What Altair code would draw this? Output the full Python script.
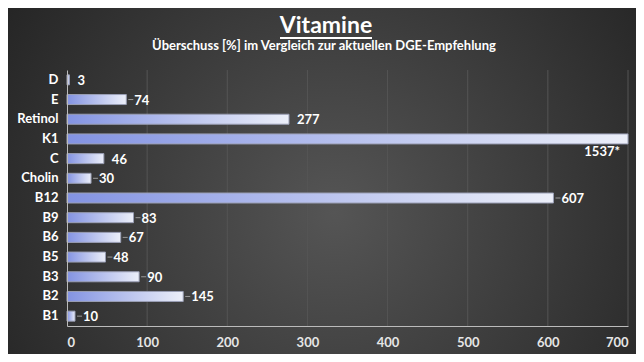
import altair as alt
import pandas as pd

names = ["D", "E", "Retinol", "K1", "C", "Cholin", "B12", "B9", "B6", "B5", "B3", "B2", "B1"]
values = [3, 74, 277, 1537, 46, 30, 607, 83, 67, 48, 90, 145, 10]
labels = ["3", "74", "277", "1537*", "46", "30", "607", "83", "67", "48", "90", "145", "10"]
x_ticks = [0, 100, 200, 300, 400, 500, 600, 700]
title_text = "Vitamine"
subtitle_text = "Überschuss [%] im Vergleich zur aktuellen DGE-Empfehlung"

df = pd.DataFrame({"name": names, "value": values, "label": labels})
grid_df = pd.DataFrame({"tick": x_ticks[1:]})
one = pd.DataFrame({"t": [title_text], "s": [subtitle_text]})

W, H = 561, 256
FONT = "Lato"
xscale = alt.Scale(domain=[0, 700], nice=False, clamp=True)
yscale = alt.Scale(domain=names, paddingInner=0, paddingOuter=0)

bg = alt.Chart(one).mark_rect(
    color=alt.Gradient(
        gradient="radial",
        stops=[alt.GradientStop(offset=0, color="#555555"),
               alt.GradientStop(offset=1, color="#1b1b1b")],
        x1=0.52, y1=0.55, r1=0, x2=0.52, y2=0.55, r2=0.75,
    )
).encode(x=alt.value(-59), x2=alt.value(W + 8), y=alt.value(-62), y2=alt.value(H + 28))

grid = alt.Chart(grid_df).mark_rule(color="#555555", strokeWidth=1).encode(
    x=alt.X("tick:Q", scale=xscale, title=None)
)

bars = alt.Chart(df).mark_bar(
    size=10,
    color=alt.Gradient(
        gradient="linear",
        stops=[alt.GradientStop(offset=0, color="#8393e2"),
               alt.GradientStop(offset=1, color="#eceff9")],
        x1=0, x2=1, y1=0, y2=0,
    ),
    stroke="#9a9fb5", strokeWidth=1,
).encode(
    x=alt.X("value:Q", scale=xscale, title=None,
            axis=alt.Axis(values=x_ticks, grid=False, ticks=False, domainColor="#bbbbbb",
                          labelColor="#e6e6e6", labelFont=FONT, labelFontSize=13,
                          labelFontWeight="bold", labelPadding=10, zindex=1)),
    y=alt.Y("name:N", scale=yscale, sort=names, title=None,
            axis=alt.Axis(ticks=False, domainColor="#bbbbbb", labelColor="#ffffff",
                          labelFont=FONT, labelFontSize=13, labelFontWeight="bold",
                          labelPadding=9, zindex=1)),
)

leaders = alt.Chart(df).transform_filter(
    "datum.name != 'D' && datum.name != 'K1' && datum.name != 'Retinol' && datum.name != 'C'"
).mark_rule(color="#9a9a9a", strokeWidth=1, xOffset=2, x2Offset=7).encode(
    x=alt.X("value:Q", scale=xscale, title=None),
    x2="value:Q",
    y=alt.Y("name:N", scale=yscale, sort=names, title=None),
)

text = alt.Chart(df).transform_filter("datum.name != 'K1'").mark_text(
    align="left", baseline="middle", dx=8, dy=1, color="white",
    font=FONT, fontSize=13, fontWeight="bold",
).encode(
    x=alt.X("value:Q", scale=xscale, title=None),
    y=alt.Y("name:N", scale=yscale, sort=names, title=None),
    text="label:N",
)

k1text = alt.Chart(df).transform_filter("datum.name == 'K1'").mark_text(
    align="right", baseline="middle", dx=-8, dy=13, color="white",
    font=FONT, fontSize=13, fontWeight="bold",
).encode(
    x=alt.X("value:Q", scale=xscale, title=None),
    y=alt.Y("name:N", scale=yscale, sort=names, title=None),
    text="label:N",
)

title = alt.Chart(one).mark_text(
    align="center", baseline="middle", color="white",
    font=FONT, fontSize=23, fontWeight="bold",
).encode(x=alt.value(259), y=alt.value(-44), text="t:N")

underline = alt.Chart(one).mark_rule(color="white", strokeWidth=2).encode(
    x=alt.value(213), x2=alt.value(305), y=alt.value(-32)
)

subtitle = alt.Chart(one).mark_text(
    align="center", baseline="middle", color="white",
    font=FONT, fontSize=13, fontWeight="bold",
).encode(x=alt.value(257), y=alt.value(-24), text="s:N")

chart = alt.layer(bg, grid, bars, leaders, text, k1text, title, underline, subtitle).properties(
    width=W, height=H,
    autosize=alt.AutoSizeParams(type="none"),
    padding={"left": 59, "top": 62, "right": 8, "bottom": 28},
    background="#262626",
).configure_view(stroke=None)

chart.save("out.html", embed_options={"renderer": "svg", "actions": False})
